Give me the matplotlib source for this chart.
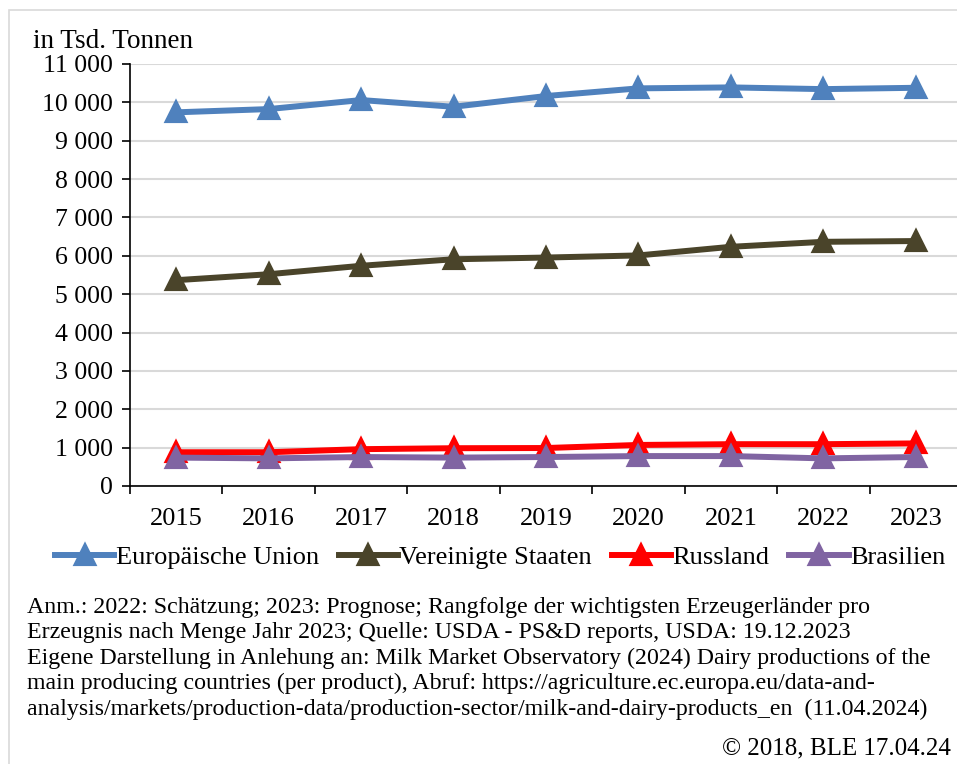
import matplotlib.pyplot as plt
from matplotlib.ticker import FuncFormatter, FixedLocator
from matplotlib.patches import Rectangle

# Daten (in Tsd. Tonnen)
jahre = ['2015', '2016', '2017', '2018', '2019', '2020', '2021', '2022', '2023']
eu = [9740, 9825, 10060, 9885, 10165, 10365, 10390, 10345, 10380]
usa = [5365, 5520, 5740, 5910, 5955, 6010, 6235, 6365, 6385]
russland = [880, 880, 960, 985, 990, 1070, 1090, 1090, 1110]
brasilien = [740, 720, 755, 740, 755, 780, 780, 720, 755]

serien = [
    ('Europäische Union', eu, '#4f81bd'),
    ('Vereinigte Staaten', usa, '#4a442a'),
    ('Russland', russland, '#ff0000'),
    ('Brasilien', brasilien, '#8064a2'),
]

plt.rcParams['font.family'] = ['Liberation Serif', 'DejaVu Serif']

fig = plt.figure(figsize=(9.57, 7.64), dpi=100)
ax = fig.add_axes([130 / 957, 1 - 486 / 764, 832 / 957, 422 / 764])

x = list(range(len(jahre)))
for name, werte, farbe in serien:
    ax.plot(x, werte, color=farbe, lw=4.3, marker='^', markersize=13,
            markeredgewidth=3, markeredgecolor=farbe, markerfacecolor=farbe,
            solid_joinstyle='round', label=name, zorder=3)

ax.set_ylim(0, 11000)
ax.set_yticks(range(0, 11001, 1000))
ax.yaxis.set_major_formatter(FuncFormatter(lambda v, p: f'{int(v):,}'.replace(',', ' ')))
ax.set_xlim(-0.5, 8.5)
ax.xaxis.set_major_locator(FixedLocator([i - 0.5 for i in range(len(jahre) + 1)]))
ax.xaxis.set_minor_locator(FixedLocator(x))
ax.set_xticklabels([])
ax.set_xticklabels(jahre, minor=True)
ax.tick_params(axis='x', which='major', length=6, width=1.2, direction='out')
ax.tick_params(axis='x', which='minor', length=0, pad=16, labelsize=19)
ax.tick_params(axis='y', length=6, width=1.2, direction='out', pad=6, labelsize=18.5)

ax.grid(axis='y', color='#d9d9d9', lw=1.5, zorder=0)
ax.set_axisbelow(True)
for s in ['top', 'right']:
    ax.spines[s].set_visible(False)
ax.spines['left'].set_linewidth(1.2)
ax.spines['bottom'].set_linewidth(1.2)

fig.text(33 / 957, 1 - 42 / 764, 'in Tsd. Tonnen', fontsize=19.5, va='center', ha='left')

fig.legend(loc='center', bbox_to_anchor=(500 / 957, 1 - 557 / 764), ncol=4, frameon=False,
           fontsize=19, handlelength=2.25, handletextpad=0.05, columnspacing=0.75,
           borderaxespad=0)

anm = ('Anm.: 2022: Schätzung; 2023: Prognose; Rangfolge der wichtigsten Erzeugerländer pro\n'
       'Erzeugnis nach Menge Jahr 2023; Quelle: USDA - PS&D reports, USDA: 19.12.2023\n'
       'Eigene Darstellung in Anlehung an: Milk Market Observatory (2024) Dairy productions of the\n'
       'main producing countries (per product), Abruf: https://agriculture.ec.europa.eu/data-and-\n'
       'analysis/markets/production-data/production-sector/milk-and-dairy-products_en  (11.04.2024)')
fig.text(27 / 957, 1 - 597 / 764, anm, fontsize=17.2, va='top', ha='left', linespacing=1.27)
fig.text(951 / 957, 1 - 748 / 764, '© 2018, BLE 17.04.24', fontsize=18, va='center', ha='right')

# Rahmen
fig.patches.append(Rectangle((9 / 957, -0.1), 1.2, 1 - 10 / 764 + 0.1, transform=fig.transFigure,
                             fill=False, edgecolor='#d9d9d9', lw=1.2))

fig.savefig('out.png', dpi=100)
